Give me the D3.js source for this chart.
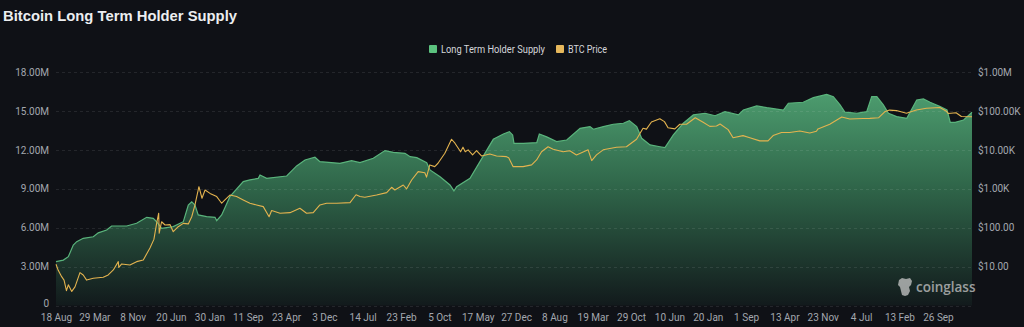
<!DOCTYPE html>
<html><head><meta charset="utf-8">
<script src="https://cdn.jsdelivr.net/npm/d3@7/dist/d3.min.js"></script>
<style>
html,body{margin:0;padding:0;background:#0f1116;}
svg{display:block;}
</style></head>
<body>
<svg id="chart" width="1024" height="327"></svg>
<script>
// ---------- DATA ----------
const title = "Bitcoin Long Term Holder Supply";
const seriesNames = ["Long Term Holder Supply", "BTC Price"];

const supplyDates = ["2011-08-18","2011-09-30","2011-10-29","2011-11-27","2011-12-17","2012-01-24","2012-03-23","2012-04-21","2012-06-09","2012-07-08","2012-10-04","2012-12-01","2013-01-29","2013-03-08","2013-03-28","2013-04-26","2013-07-03","2013-08-31","2013-09-29","2013-10-19","2013-11-07","2013-11-26","2014-01-14","2014-03-04","2014-03-14","2014-04-12","2014-05-30","2014-08-16","2014-09-24","2014-11-12","2014-11-22","2014-12-31","2015-04-27","2015-06-24","2015-08-12","2015-10-09","2015-11-07","2016-03-03","2016-05-10","2016-06-28","2016-09-14","2016-11-21","2017-01-09","2017-03-18","2017-04-17","2017-05-26","2017-07-23","2017-08-11","2017-10-09","2017-12-06","2017-12-29","2018-01-14","2018-04-02","2018-05-30","2018-08-16","2018-10-14","2018-11-18","2018-12-07","2018-12-15","2019-02-08","2019-04-27","2019-05-12","2019-06-24","2019-08-21","2019-10-19","2020-01-05","2020-03-03","2020-03-23","2020-05-20","2020-07-17","2020-09-14","2020-10-19","2020-12-01","2020-12-30","2021-02-17","2021-04-16","2021-05-15","2021-07-03","2021-08-30","2021-10-28","2022-01-04","2022-03-04","2022-05-01","2022-07-18","2022-08-16","2022-11-02","2022-12-31","2023-04-07","2023-05-06","2023-08-01","2023-09-29","2023-12-16","2024-01-24","2024-03-03","2024-04-01","2024-06-09","2024-08-06","2024-09-04","2024-10-04","2024-11-11","2024-12-11","2025-01-28","2025-03-28","2025-05-25","2025-07-03","2025-08-11","2025-10-09","2025-11-18","2025-12-07","2026-01-05","2026-02-23","2026-04-13"];
// millions of BTC
const supplyValues = [3.38,3.50,3.76,4.66,4.92,5.18,5.30,5.60,5.82,6.13,6.13,6.34,6.80,6.72,6.46,5.95,6.08,6.46,7.75,8.00,7.75,6.98,6.85,6.80,6.54,6.98,8.39,9.55,9.68,9.80,10.06,9.80,9.98,10.76,11.22,11.43,11.09,10.96,11.16,11.01,11.35,11.94,11.81,11.73,11.47,11.40,11.01,10.45,9.93,9.29,8.83,9.16,9.80,11.09,12.81,13.22,13.40,13.15,12.50,12.50,12.55,13.22,13.00,12.63,12.76,13.66,13.79,13.59,13.79,13.97,14.05,14.25,13.79,12.89,12.38,12.24,12.17,13.15,14.05,14.69,14.82,14.63,14.94,14.69,15.07,15.38,15.25,15.07,15.59,15.67,16.02,16.28,16.10,15.46,14.90,14.82,14.94,16.10,16.10,15.46,14.82,14.56,14.43,15.84,15.92,15.67,15.33,15.07,14.12,14.12,14.30,14.90];

const priceDates = ["2011-08-18","2011-08-31","2011-09-20","2011-10-04","2011-10-18","2011-10-29","2011-11-18","2011-12-07","2012-01-05","2012-01-24","2012-02-13","2012-03-23","2012-05-20","2012-06-18","2012-07-18","2012-08-16","2012-08-19","2012-09-05","2012-10-23","2012-12-01","2013-01-09","2013-02-17","2013-03-12","2013-03-28","2013-04-09","2013-04-12","2013-04-26","2013-05-16","2013-06-14","2013-07-03","2013-08-01","2013-08-31","2013-09-29","2013-10-19","2013-11-07","2013-11-30","2013-12-18","2014-01-05","2014-02-03","2014-03-14","2014-04-12","2014-05-01","2014-05-30","2014-07-08","2014-08-16","2014-09-24","2014-11-02","2014-12-11","2015-01-14","2015-01-29","2015-03-19","2015-05-16","2015-07-13","2015-08-21","2015-09-29","2015-11-07","2015-12-16","2016-02-13","2016-05-01","2016-06-05","2016-06-28","2016-07-27","2016-10-03","2016-12-01","2016-12-30","2017-01-18","2017-03-08","2017-03-27","2017-04-26","2017-06-03","2017-07-12","2017-07-22","2017-08-10","2017-09-08","2017-09-27","2017-11-06","2017-12-15","2018-01-04","2018-02-06","2018-02-20","2018-03-05","2018-03-22","2018-04-17","2018-05-10","2018-06-08","2018-07-27","2018-09-04","2018-11-01","2018-11-14","2018-12-10","2019-02-06","2019-03-28","2019-04-26","2019-05-25","2019-07-02","2019-08-01","2019-09-28","2019-11-06","2019-12-15","2020-02-21","2020-03-13","2020-04-10","2020-05-19","2020-08-05","2020-10-02","2020-11-30","2021-01-07","2021-01-27","2021-02-25","2021-04-15","2021-05-12","2021-06-02","2021-07-12","2021-08-10","2021-09-18","2021-11-08","2021-12-24","2022-02-01","2022-03-12","2022-04-02","2022-05-19","2022-06-17","2022-08-14","2022-09-23","2022-11-20","2023-01-07","2023-02-06","2023-03-27","2023-05-14","2023-07-12","2023-09-08","2023-10-17","2023-10-26","2024-01-03","2024-03-13","2024-04-29","2024-07-15","2024-08-24","2024-10-15","2024-11-19","2024-12-17","2025-01-26","2025-03-26","2025-05-23","2025-07-21","2025-10-07","2025-11-12","2025-11-25","2026-01-10","2026-02-10","2026-04-13"];
const priceValues = [11.5,8,5.5,4.5,2.4,3.4,2.3,3.0,7,6.1,4.5,5,5.3,6.1,8.2,13.4,9.5,11.7,11,13.4,14.8,30,50,129,235,72,142,117,120,79,106,129,125,191,383,1130,570,930,760,630,425,515,690,630,515,425,383,347,191,275,235,243,316,235,243,383,425,425,440,700,630,605,690,795,1090,930,1250,990,1680,2750,2570,1990,4100,3700,4520,8200,18700,14800,8900,11700,8900,10000,7400,9500,6950,7850,6950,6680,6300,3700,3700,4100,5500,8900,12000,10350,8900,9500,7400,10000,5300,7400,10000,11700,12000,18700,35900,34000,52000,63000,53000,37000,34500,45500,45500,67000,51000,40000,41000,46000,33000,20500,23200,20500,17000,17000,23200,28000,28000,30600,27000,30000,34500,45500,70000,62000,64000,64500,67000,95000,105000,102000,87000,106000,117000,122000,100000,86000,90000,72000,71000];

const xTickDates = ["2011-08-18","2012-03-29","2012-11-08","2013-06-20","2014-01-30","2014-09-11","2015-04-23","2015-12-03","2016-07-14","2017-02-23","2017-10-05","2018-05-17","2018-12-27","2019-08-08","2020-03-19","2020-10-29","2021-06-10","2022-01-20","2022-09-01","2023-04-13","2023-11-23","2024-07-04","2025-02-13","2025-09-26"];
const leftTicks = [0, 3, 6, 9, 12, 15, 18];
const rightTicks = [10, 100, 1000, 10000, 100000, 1000000];
const rightTickLabels = ["$10.00","$100.00","$1.00K","$10.00K","$100.00K","$1.00M"];
const xDomain = ["2011-08-18","2026-04-13"];

// ---------- CHART ----------
const parse = d3.timeParse("%Y-%m-%d");
const svg = d3.select("#chart");
const W = 1024, H = 327;
const plot = {left: 56, right: 972, top: 72, bottom: 305.5};

svg.append("rect").attr("width", W).attr("height", H).attr("fill", "#0f1116");

const x = d3.scaleTime().domain(xDomain.map(parse)).range([plot.left, plot.right]);
const yL = d3.scaleLinear().domain([0, 18]).range([plot.bottom, plot.top]);
const yR = d3.scaleLog().domain([1, 1e6]).range([plot.bottom, plot.top]);

const supply = supplyDates.map((d, i) => ({date: parse(d), v: supplyValues[i]}));
const price = priceDates.map((d, i) => ({date: parse(d), v: priceValues[i]}));

// title
svg.append("text").attr("x", 3).attr("y", 21)
  .attr("font-family", "Liberation Sans, Arial, sans-serif")
  .attr("font-weight", "bold").attr("font-size", 15.5)
  .attr("textLength", 234).attr("lengthAdjust", "spacingAndGlyphs")
  .attr("fill", "#eceef0").text(title);

// legend
const legendFont = "Roboto, 'Open Sans', sans-serif";
const legend = svg.append("g").attr("font-family", legendFont).attr("font-size", 10.5);
const lg1 = legend.append("g").attr("transform", "translate(429,45)");
lg1.append("rect").attr("width", 8).attr("height", 8).attr("rx", 1).attr("fill", "#5cc27f");
lg1.append("text").attr("x", 12).attr("y", 8).attr("fill", "#d4d6da")
  .attr("textLength", 104).attr("lengthAdjust", "spacingAndGlyphs").text(seriesNames[0]);
const lg2 = legend.append("g").attr("transform", "translate(556,45)");
lg2.append("rect").attr("width", 8).attr("height", 8).attr("rx", 1).attr("fill", "#e6b85c");
lg2.append("text").attr("x", 12).attr("y", 8).attr("fill", "#d4d6da")
  .attr("textLength", 39).attr("lengthAdjust", "spacingAndGlyphs").text(seriesNames[1]);

// gradient
const defs = svg.append("defs");
const grad = defs.append("linearGradient").attr("id", "areaGrad")
  .attr("gradientUnits", "userSpaceOnUse")
  .attr("x1", 0).attr("x2", 0).attr("y1", yL(16.5)).attr("y2", plot.bottom);
grad.append("stop").attr("offset", "0%").attr("stop-color", "#4d9d6f");
grad.append("stop").attr("offset", "45%").attr("stop-color", "#2f6549");
grad.append("stop").attr("offset", "100%").attr("stop-color", "#121a1c");

const area = d3.area().x(d => x(d.date)).y0(plot.bottom).y1(d => yL(d.v));
svg.append("path").datum(supply).attr("d", area).attr("fill", "url(#areaGrad)");

// gridlines (drawn over the fill, faint)
svg.append("g").selectAll("line").data(leftTicks).join("line")
  .attr("x1", plot.left).attr("x2", plot.right)
  .attr("y1", d => Math.round(yL(d)) + 0.5).attr("y2", d => Math.round(yL(d)) + 0.5)
  .attr("stroke", "#ffffff").attr("stroke-opacity", 0.09).attr("stroke-width", 1).attr("stroke-dasharray", "3,3");

const sLine = d3.line().x(d => x(d.date)).y(d => yL(d.v));
svg.append("path").datum(supply).attr("d", sLine).attr("fill", "none")
  .attr("stroke", "#5ab47c").attr("stroke-width", 1.2);

// price line
const pLine = d3.line().x(d => x(d.date)).y(d => yR(d.v));
svg.append("path").datum(price).attr("d", pLine).attr("fill", "none")
  .attr("stroke", "#e3b34f").attr("stroke-width", 1.1).attr("stroke-linejoin", "round");

// axes
const axisFont = "Roboto, 'Open Sans', sans-serif";
const fmtL = d => d === 0 ? "0" : d3.format(".2f")(d) + "M";
const gL = svg.append("g").attr("transform", `translate(${plot.left - 7},0)`)
  .call(d3.axisLeft(yL).tickValues(leftTicks).tickFormat(fmtL).tickSize(0).tickPadding(0));
const gR = svg.append("g").attr("transform", `translate(${plot.right + 6},0)`)
  .call(d3.axisRight(yR).tickValues(rightTicks).tickFormat((d, i) => rightTickLabels[i]).tickSize(0).tickPadding(0));
const gX = svg.append("g").attr("transform", `translate(0,${plot.bottom + 8})`)
  .call(d3.axisBottom(x).tickValues(xTickDates.map(parse)).tickFormat(d3.timeFormat("%-d %b")).tickSize(0).tickPadding(0));
[gL, gR, gX].forEach(g => {
  g.select(".domain").remove();
  g.selectAll("text").attr("font-family", axisFont).attr("font-size", 10).attr("fill", "#a3a7ae");
});
gX.selectAll("text").attr("dy", "0.71em");
gL.selectAll(".tick").filter(d => d === 0).select("text").attr("dy", "0.1em");

// watermark
const wm = svg.append("g").attr("transform", "translate(897,278)").attr("opacity", 0.75);
wm.append("path").attr("d", "M2,2 L5,0 L9,1 L13,0 L15,3 L14,7 L12,9 L13,13 L11,17 L8,18 L5,17 L4,13 L3,9 L1,7 Z")
  .attr("fill", "#c8c8c8");
wm.append("text").attr("x", 19).attr("y", 14).attr("font-family", "'Open Sans', Roboto, sans-serif")
  .attr("font-weight", "600").attr("font-size", 13.5).attr("fill", "#c8c8c8").text("coinglass");
</script>
</body></html>
